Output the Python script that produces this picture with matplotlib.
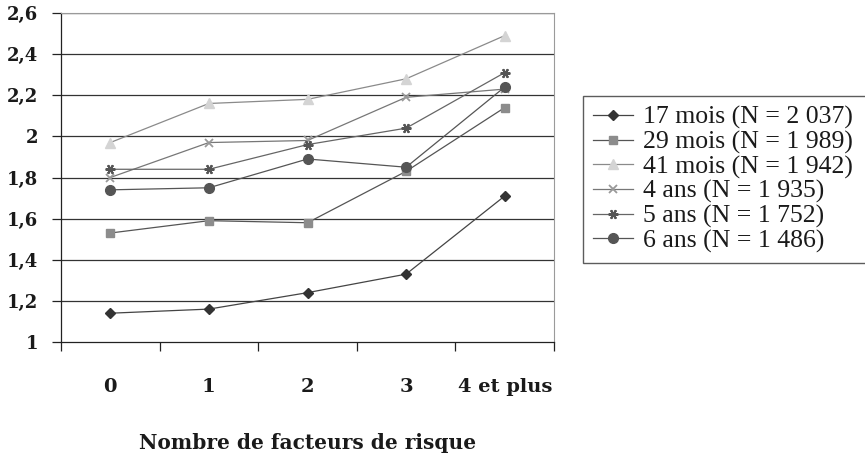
import matplotlib
matplotlib.use("Agg")
import matplotlib.pyplot as plt
import numpy as np

categories = ["0", "1", "2", "3", "4 et plus"]
series_names = ["17 mois (N = 2 037)", "29 mois (N = 1 989)", "41 mois (N = 1 942)",
                "4 ans (N = 1 935)", "5 ans (N = 1 752)", "6 ans (N = 1 486)"]
v17m = [1.14, 1.16, 1.24, 1.33, 1.71]
v29m = [1.53, 1.59, 1.58, 1.83, 2.14]
v41m = [1.97, 2.16, 2.18, 2.28, 2.49]
v4a = [1.80, 1.97, 1.98, 2.19, 2.23]
v5a = [1.84, 1.84, 1.96, 2.04, 2.31]
v6a = [1.74, 1.75, 1.89, 1.85, 2.24]
y_ticks = [1, 1.2, 1.4, 1.6, 1.8, 2, 2.2, 2.4, 2.6]
y_labels = ["1", "1,2", "1,4", "1,6", "1,8", "2", "2,2", "2,4", "2,6"]
x_label = "Nombre de facteurs de risque"

values = [v17m, v29m, v41m, v4a, v5a, v6a]
styles = [
    dict(marker="D", mfc="#333333", mec="#333333", color="#444444", ms=5),
    dict(marker="s", mfc="#8c8c8c", mec="#8c8c8c", color="#555555", ms=6),
    dict(marker="^", mfc="#d4d4d4", mec="#d4d4d4", color="#8a8a8a", ms=7),
    dict(marker="x", mfc="#999999", mec="#999999", color="#777777", ms=6, mew=1.3),
    dict(marker=(6, 2, 90), mfc="#555555", mec="#555555", color="#666666", ms=7, mew=1.5),
    dict(marker="o", mfc="#555555", mec="#555555", color="#555555", ms=7),
]

plt.rcParams["font.family"] = ["DejaVu Serif", "Liberation Serif"]
W, H = 865, 466
fig = plt.figure(figsize=(W / 100, H / 100), dpi=100)
ax = fig.add_axes([61 / W, (H - 342) / H, (554 - 61) / W, (342 - 13) / H])

x = np.arange(len(categories))
for name, vals, st in zip(series_names, values, styles):
    ax.plot(x, vals, label=name, lw=0.9, **st)

ax.set_xlim(-0.5, len(categories) - 0.5)
ax.set_ylim(1, 2.6)
ax.set_yticks(y_ticks)
ax.set_yticklabels(y_labels, fontsize=13, fontweight="bold", color="#1a1a1a")
for yv in y_ticks[1:]:
    ax.axhline(yv, color="#333333", lw=0.9, zorder=0)

ax.set_xticks(np.arange(len(categories) + 1) - 0.5)
ax.set_xticklabels([])
ax.set_xticks(x, minor=True)
ax.set_xticklabels(categories, minor=True, fontsize=14, fontweight="bold", color="#1a1a1a")
ax.tick_params(axis="x", which="major", direction="out", length=6.5, color="#222222", width=0.9)
ax.tick_params(axis="x", which="minor", length=0, pad=26)
ax.tick_params(axis="y", direction="out", length=6.5, color="#222222", width=0.9, pad=10)

ax.spines["left"].set_color("#222222")
ax.spines["bottom"].set_color("#222222")
ax.spines["left"].set_linewidth(0.9)
ax.spines["bottom"].set_linewidth(0.9)
ax.spines["top"].set_color("#9a9a9a")
ax.spines["right"].set_color("#9a9a9a")

fig.text((61 + 554) / 2 / W, 1 - 443 / H, x_label, fontsize=14.5, fontweight="bold",
         color="#1a1a1a", ha="center", va="center")

leg = fig.legend(loc="lower left", bbox_to_anchor=(583 / W, 1 - 263 / H, 320 / W, 0.1),
                 mode="expand",
                 prop={"family": "Liberation Serif", "size": 18.5}, frameon=True, fancybox=False,
                 borderaxespad=0, handlelength=1.55, handletextpad=0.4, labelspacing=0.05,
                 borderpad=0.4, edgecolor="#333333")
leg.get_frame().set_linewidth(1.0)
for t in leg.get_texts():
    t.set_color("#1a1a1a")

fig.savefig("out.png", dpi=100)
